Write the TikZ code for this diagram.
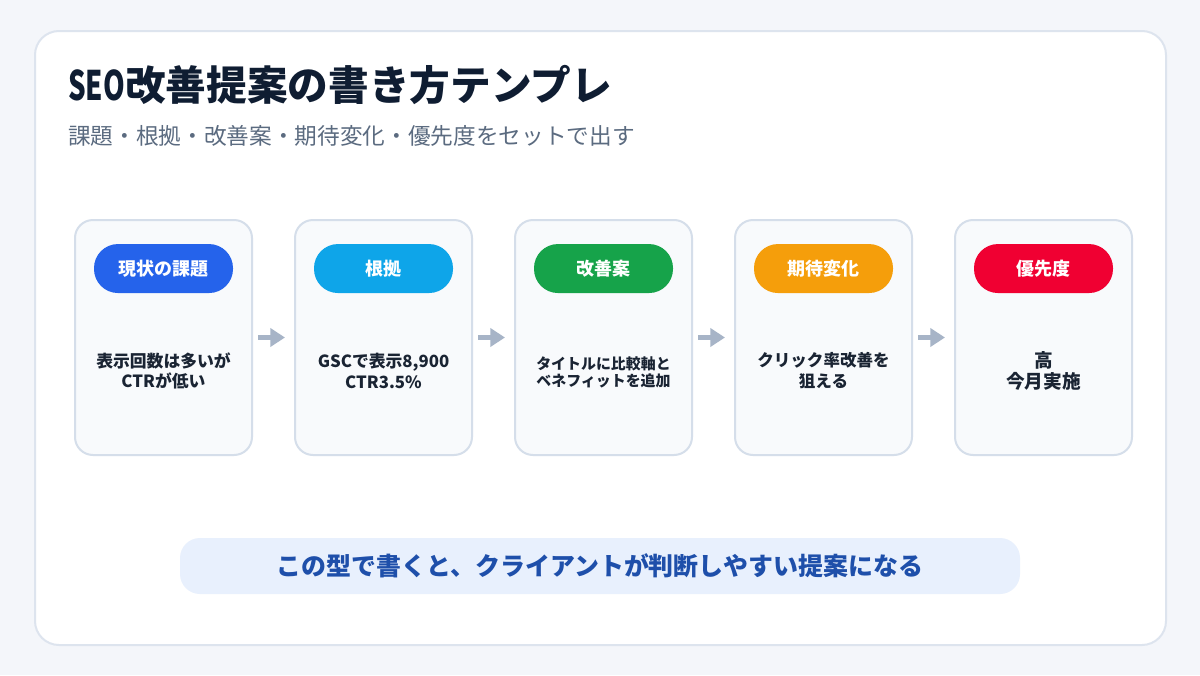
\documentclass[tikz,border=0pt]{standalone}
\usepackage{fontspec}
\setmainfont{Noto Sans CJK JP}
\usetikzlibrary{positioning,arrows.meta}
\definecolor{pagebg}{HTML}{F4F6FA}
\definecolor{frameline}{HTML}{DDE4EE}
\definecolor{cardbg}{HTML}{F8FAFC}
\definecolor{cardline}{HTML}{D5DEEA}
\definecolor{ink}{HTML}{0F1D32}
\definecolor{subink}{HTML}{5B6B80}
\definecolor{bodyink}{HTML}{1A2433}
\definecolor{arrowgray}{HTML}{A7B4C7}
\definecolor{tagblue}{HTML}{2563EB}
\definecolor{tagsky}{HTML}{0EA5E9}
\definecolor{taggreen}{HTML}{16A34A}
\definecolor{tagamber}{HTML}{F59E0B}
\definecolor{tagred}{HTML}{F00032}
\definecolor{notebg}{HTML}{E8F0FD}
\definecolor{noteink}{HTML}{1E4FAA}
\begin{document}
\begin{tikzpicture}[x=0.75pt, y=-0.75pt, line join=round, >={Triangle[length=11pt,width=13.5pt]}]
  \tikzset{card/.style={draw=cardline, line width=1.5pt, fill=cardbg, rounded corners=13.5pt,
      outer sep=0pt, minimum width=132.75pt, minimum height=176.25pt},
    tag/.style={fill=#1, rounded corners=18pt, minimum width=104.25pt, minimum height=36.75pt,
      text=white, font=\bfseries\fontsize{13.5}{16}\selectfont},
    body/.style={text=bodyink, align=center, font=\bfseries\fontsize{#1}{15.5}\selectfont},
    body/.default=12.6,
    flow/.style={->, draw=arrowgray, line width=4pt}}
  \useasboundingbox (0,0) rectangle (1200,675);
  \fill[pagebg] (0,0) rectangle (1200,675);
  \draw[frameline, fill=white, line width=1.5pt, rounded corners=18pt] (35,31) rectangle (1166,645);
  % heading
  \node[anchor=base west, inner sep=0pt, text=ink, font=\bfseries\fontsize{30.5}{36}\selectfont] (title) at (68,100)
    {{\addfontfeature{FakeStretch=0.68}SEO}改善提案の書き方テンプレ};
  \node[anchor=base west, inner sep=0pt, text=subink, font=\fontsize{17}{20}\selectfont] (sub) at (68,144) {課題・根拠・改善案・期待変化・優先度をセットで出す};
  % cards
  \node[card] (c1) at (163.5,337.5) {};
  \node[card, right=32.25pt of c1] (c2) {};
  \node[card, right=32.25pt of c2] (c3) {};
  \node[card, right=32.25pt of c3] (c4) {};
  \node[card, right=32.25pt of c4] (c5) {};
  \node[tag=tagblue] (t1) at ([yshift=-36.4pt]c1.north) {現状の課題};
  \node[tag=tagsky] (t2) at ([yshift=-36.4pt]c2.north) {根拠};
  \node[tag=taggreen] (t3) at ([yshift=-36.4pt]c3.north) {改善案};
  \node[tag=tagamber] (t4) at ([yshift=-36.4pt]c4.north) {期待変化};
  \node[tag=tagred] (t5) at ([yshift=-36.4pt]c5.north) {優先度};
  \node[body] (b1) at ([yshift=-25pt]c1.center) {表示回数は多いが\\CTRが低い};
  \node[body] (b2) at ([yshift=-25pt]c2.center) {GSCで表示8,900\\CTR3.5\%};
  \node[body, font=\bfseries\fontsize{11.2}{13}\selectfont] (b3) at ([yshift=-26pt]c3.center) {タイトルに比較軸と\\ベネフィットを追加};
  \node[body=12.4] (b4) at ([yshift=-25pt]c4.center) {クリック率改善を\\狙える};
  \node[body, font=\bfseries\fontsize{14}{15.5}\selectfont] (b5) at ([yshift=-25pt]c5.center) {高\\今月実施};
  % arrows
  \draw[flow] ([xshift=4.5pt]c1.east) -- ([xshift=-7.5pt]c2.west);
  \draw[flow] ([xshift=4.5pt]c2.east) -- ([xshift=-7.5pt]c3.west);
  \draw[flow] ([xshift=4.5pt]c3.east) -- ([xshift=-7.5pt]c4.west);
  \draw[flow] ([xshift=4.5pt]c4.east) -- ([xshift=-7.5pt]c5.west);
  % note
  \node[fill=notebg, rounded corners=15pt, minimum width=630pt, minimum height=42pt, text=noteink,
    font=\bfseries\fontsize{18.7}{22}\selectfont] (note) at (600,566) {この型で書くと、クライアントが判断しやすい提案になる};
\end{tikzpicture}
\end{document}
